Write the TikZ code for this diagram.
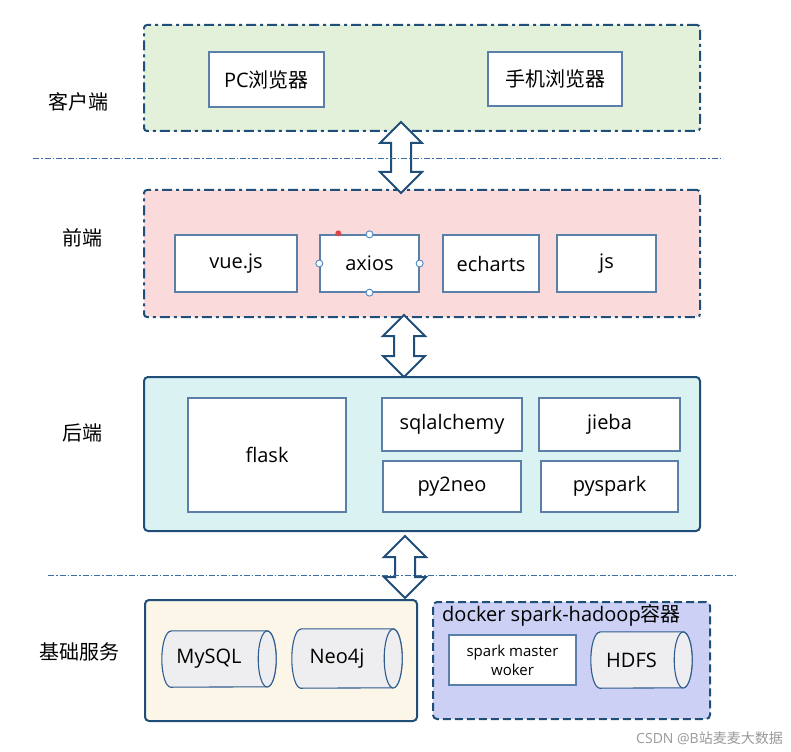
\documentclass[tikz,border=0pt]{standalone}
\usepackage{fontspec}
\setmainfont{Open Sans}
\newfontfamily\cjk{Noto Sans CJK SC}
\usetikzlibrary{calc}
\definecolor{outerc}{HTML}{1F4E79}
\definecolor{innerc}{HTML}{5A7FA8}
\definecolor{clientfill}{HTML}{E3F1DA}
\definecolor{frontfill}{HTML}{FADADA}
\definecolor{backfill}{HTML}{DBF2F3}
\definecolor{basefill}{HTML}{FBF6E8}
\definecolor{dockfill}{HTML}{CDD0F5}
\definecolor{cylfillc}{HTML}{EEEEF0}
\definecolor{cylline}{HTML}{2F5C8F}
\definecolor{sepc}{HTML}{3A6EA5}
\definecolor{handlec}{HTML}{4A86C5}
\definecolor{reddot}{HTML}{D94848}
\newcommand{\mkcyl}[6]{%
  \node[minimum width=#4, minimum height=#5, inner sep=0pt] (#1) at (#2,#3) {};
  \draw[cyl] ($(#1.north west)+(9pt,0)$) -- ($(#1.north east)+(-9pt,0)$)
    arc[start angle=90, end angle=-90, x radius=9pt, y radius={#5*0.5pt}]
    -- ($(#1.south west)+(9pt,0)$)
    arc[start angle=270, end angle=90, x radius=9pt, y radius={#5*0.5pt}] -- cycle;
  \draw[cyl] ($(#1.east)+(-9pt,0)$) ellipse[x radius=9pt, y radius={#5*0.5pt}];
  \node[txt] at ($(#1.center)+(-10pt,0)$) {#6};
}
\newcommand{\dblarrow}[2]{%
  \draw[dbl] (#1) -- ($(#1)+(21,21)$) -- ($(#1)+(10,21)$) -- ($(#2)+(10,-21)$)
    -- ($(#2)+(21,-21)$) -- (#2) -- ($(#2)+(-21,-21)$) -- ($(#2)+(-10,-21)$)
    -- ($(#1)+(-10,21)$) -- ($(#1)+(-21,21)$) -- cycle;
}
\tikzset{
  txt/.style={font=\fontsize{20}{24}\selectfont, text=black, inner sep=0pt},
  layerlabel/.style={font=\cjk\fontsize{20}{24}\selectfont, inner sep=0pt},
  dashdotbox/.style={draw=outerc, line width=2pt, rounded corners=3pt,
    dash pattern=on 10pt off 4pt on 3pt off 4pt},
  solidbox/.style={draw=outerc, line width=2pt, rounded corners=4pt},
  dashbox/.style={draw=outerc, line width=2pt, rounded corners=4pt,
    dash pattern=on 8pt off 4pt},
  inbox/.style={draw=innerc, line width=1.3pt, fill=white, inner sep=0pt,
    font=\fontsize{20}{24}\selectfont, align=center},
  cyl/.style={draw=cylline, line width=1.1pt, fill=cylfillc},
  dbl/.style={draw=outerc, line width=2pt, fill=white, line join=miter},
  sepline/.style={draw=sepc, line width=0.9pt, dash pattern=on 6pt off 2pt on 1.5pt off 2pt},
  handle/.style={circle, draw=handlec, fill=white, line width=0.9pt, inner sep=0pt, minimum size=7pt},
}
\begin{document}
\begin{tikzpicture}[x=1pt, y=-1pt]
\useasboundingbox (0,0) rectangle (791,751);
\fill[white] (0,0) rectangle (791,751);

% layer containers
\node[dashdotbox, fill=clientfill, minimum width=556, minimum height=106] (client) at (422,78) {};
\node[dashdotbox, fill=frontfill, minimum width=556, minimum height=127] (front) at (422,253.5) {};
\node[solidbox, fill=backfill, minimum width=556, minimum height=154] (back) at (422,454) {};
\node[solidbox, fill=basefill, minimum width=272, minimum height=121] (base) at (281,660.5) {};
\node[dashbox, fill=dockfill, minimum width=277, minimum height=117] (docker) at (571.5,660.5) {};

% layer labels
\node[layerlabel] (lclient) at (78,102) {客户端};
\node[layerlabel] (lfront) at (82,238) {前端};
\node[layerlabel] (lback) at (82,433) {后端};
\node[layerlabel] (lbase) at (79,652) {基础服务};

% client
\node[inbox, minimum width=115, minimum height=55] (pc) at (266.5,79.5) {PC{\cjk 浏览器}};
\node[inbox, minimum width=134, minimum height=54] (mobile) at (555,79) {{\cjk 手机浏览器}};

% frontend
\node[inbox, minimum width=122, minimum height=57] (vue) at (236,263.5) {vue.js};
\node[inbox, minimum width=99, minimum height=57] (axios) at (369.5,263.5) {axios};
\node[inbox, minimum width=96, minimum height=57] (echarts) at (491,263.5) {echarts};
\node[inbox, minimum width=99, minimum height=57] (js) at (606.5,263.5) {js};
\node[handle] (h1) at (axios.north) {};
\node[handle] (h2) at (axios.south) {};
\node[handle] (h3) at (axios.west) {};
\node[handle] (h4) at (axios.east) {};
\node[circle, fill=reddot, inner sep=0pt, minimum size=6pt] (hr) at ($(axios.north west)+(19,-1)$) {};

% backend
\node[inbox, minimum width=158, minimum height=114] (flask) at (267,455) {flask};
\node[inbox, minimum width=140, minimum height=53] (sqla) at (452,424.5) {sqlalchemy};
\node[inbox, minimum width=141, minimum height=53] (jieba) at (609.5,424.5) {jieba};
\node[inbox, minimum width=138, minimum height=51] (py2neo) at (452,486.5) {py2neo};
\node[inbox, minimum width=137, minimum height=51] (pyspark) at (609.5,486.5) {pyspark};

% base services
\mkcyl{mysql}{219}{659}{114}{56}{MySQL}
\mkcyl{neo}{347}{658.5}{110}{59}{Neo4j}
\node[txt, anchor=west] (dtitle) at (442,615) {docker spark-hadoop{\cjk 容器}};
\node[inbox, minimum width=127, minimum height=50, font=\fontsize{15}{19}\selectfont] (spark) at (512.5,660) {spark master\\woker};
\mkcyl{hdfs}{641.5}{660}{101}{56}{HDFS}

% separators
\coordinate (s1a) at (33,158);
\coordinate (s1b) at (723,158);
\coordinate (s2a) at (48,575);
\coordinate (s2b) at (735,575);

% arrows
\coordinate (a1t) at (401,122);
\coordinate (a1b) at (401,193);
\coordinate (a2t) at (404,315);
\coordinate (a2b) at (404,377);
\coordinate (a3t) at (405,536);
\coordinate (a3b) at (405,598);
\dblarrow{a1t}{a1b}
\dblarrow{a2t}{a2b}
\dblarrow{a3t}{a3b}

\draw[sepline] (s1a) -- (s1b);
\draw[sepline] (s2a) -- (s2b);

% attribution
\node[font=\fontsize{14}{16}\selectfont, text=black!40, anchor=east, inner sep=0pt] (csdn) at (783,738) {CSDN @B{\cjk 站麦麦大数据}};
\end{tikzpicture}
\end{document}
